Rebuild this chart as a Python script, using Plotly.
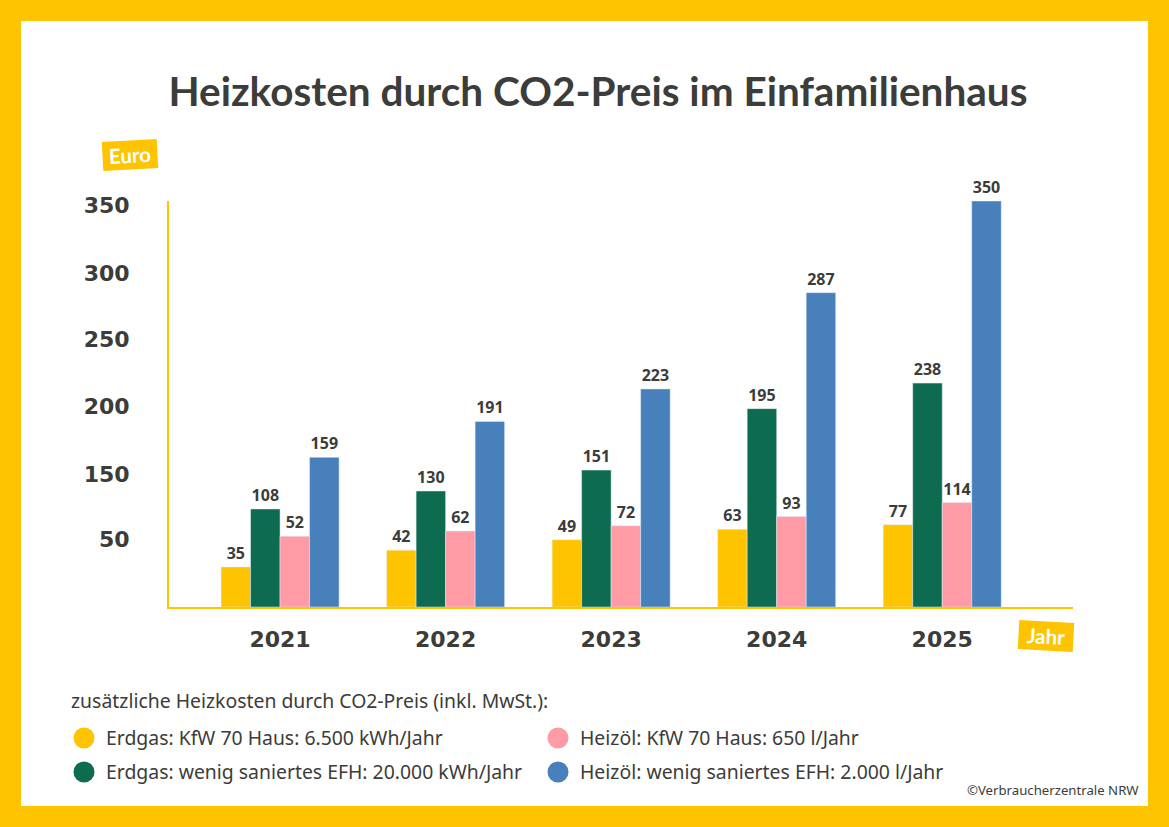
import plotly.graph_objects as go

# Werte an den Balken (Beschriftung im Original)
jahre = ['2021', '2022', '2023', '2024', '2025']
label_erdgas_kfw = [35, 42, 49, 63, 77]
label_erdgas_efh = [108, 130, 151, 195, 238]
label_heizoel_kfw = [52, 62, 72, 93, 114]
label_heizoel_efh = [159, 191, 223, 287, 350]

# Balkenhoehen, wie sie im Bild an der Achse stehen (nicht massstabsgetreu zu den Labels)
hoehe_erdgas_kfw = [34.5, 49, 58, 67, 71]
hoehe_erdgas_efh = [84.5, 100, 118, 171, 193]
hoehe_heizoel_kfw = [61, 65.5, 70, 78, 90]
hoehe_heizoel_efh = [129, 160, 188, 271, 350]

# Achse: 100 fehlt im Original, die Labels stehen gleichmaessig
y_ticks = [58, 114, 173, 231, 288, 346.5]
y_ticktext = ['50', '150', '200', '250', '300', '350']

GELB = '#FFC400'
GRUEN = '#0D6B50'
ROSA = '#FF9BA5'
BLAU = '#4880BC'
TEXT = '#3C3C3B'

BREITE, HOEHE = 1169, 827
L, R, T, B = 167, 1073, 201, 607


def px(x):
    return (x - L) / (R - L)


def py(y):
    return (B - y) / (B - T)


def balken(name, hoehe, labels, farbe):
    return go.Bar(
        x=jahre, y=hoehe, name=name, marker_color=farbe,
        text=[str(v) for v in labels], textposition='outside',
        textangle=0, cliponaxis=False, showlegend=False,
        textfont=dict(family='Noto Sans', size=16, color=TEXT, weight='bold')
    )


fig = go.Figure()
fig.add_trace(balken('Erdgas: KfW 70 Haus', hoehe_erdgas_kfw, label_erdgas_kfw, GELB))
fig.add_trace(balken('Erdgas: wenig saniertes EFH', hoehe_erdgas_efh, label_erdgas_efh, GRUEN))
fig.add_trace(balken('Heizöl: KfW 70 Haus', hoehe_heizoel_kfw, label_heizoel_kfw, ROSA))
fig.add_trace(balken('Heizöl: wenig saniertes EFH', hoehe_heizoel_efh, label_heizoel_efh, BLAU))

fig.update_layout(
    width=BREITE, height=HOEHE, autosize=False,
    margin=dict(l=L, r=BREITE - R, t=T, b=HOEHE - B, pad=0),
    paper_bgcolor=GELB, plot_bgcolor='white',
    barmode='group', bargap=0.287, bargroupgap=0,
    title=dict(
        text='<b>Heizkosten durch CO2-Preis im Einfamilienhaus</b>',
        font=dict(family='Lato', size=40.5, color=TEXT),
        x=px(598), xref='paper', xanchor='center',
        y=1 - 92 / HOEHE, yref='container', yanchor='middle'
    )
)
fig.update_xaxes(
    type='category', range=[-0.683, 4.79], showgrid=False,
    showline=True, linecolor=GELB, linewidth=2, ticks='outside', ticklen=12,
    tickcolor='rgba(0,0,0,0)',
    tickfont=dict(family='DejaVu Sans', size=22, color=TEXT, weight='bold')
)
fig.update_yaxes(
    range=[0, 350], showgrid=False, zeroline=False, showline=False,
    tickmode='array', tickvals=y_ticks, ticktext=y_ticktext,
    ticks='outside', ticklen=32, tickcolor='rgba(0,0,0,0)',
    tickfont=dict(family='DejaVu Sans', size=22, color=TEXT, weight='bold')
)

# weisse Flaeche im gelben Rahmen
fig.add_shape(type='rect', xref='paper', yref='paper', layer='below',
              x0=px(21), x1=px(1148), y0=py(806), y1=py(21),
              fillcolor='white', line_width=0)
# y-Achsenlinie sitzt im Original genau am Balkenbereich, plotly zeichnet sie 2 px weiter links
fig.add_shape(type='line', xref='paper', yref='paper',
              x0=px(168), x1=px(168), y0=py(607), y1=py(201),
              line=dict(color=GELB, width=2))

# Legende von Hand, zweispaltig mit runden Punkten
legende = [
    ('Erdgas: KfW 70 Haus: 6.500 kWh/Jahr', GELB, 84, 738),
    ('Erdgas: wenig saniertes EFH: 20.000 kWh/Jahr', GRUEN, 84, 772),
    ('Heizöl: KfW 70 Haus: 650 l/Jahr', ROSA, 558, 738),
    ('Heizöl: wenig saniertes EFH: 2.000 l/Jahr', BLAU, 558, 772),
]
for text, farbe, x, y in legende:
    fig.add_shape(type='circle', xref='paper', yref='paper',
                  x0=px(x - 10.5), x1=px(x + 10.5), y0=py(y + 10.5), y1=py(y - 10.5),
                  fillcolor=farbe, line_width=0)
    fig.add_annotation(text=text, xref='paper', yref='paper', x=px(x + 20), y=py(y - 1),
                       xanchor='left', yanchor='middle', showarrow=False,
                       font=dict(family='Noto Sans', size=19.4, color=TEXT))

fig.add_annotation(text='zusätzliche Heizkosten durch CO2-Preis (inkl. MwSt.):',
                   xref='paper', yref='paper', x=px(69), y=py(700),
                   xanchor='left', yanchor='middle', showarrow=False,
                   font=dict(family='Noto Sans', size=19.4, color=TEXT))
fig.add_annotation(text='©Verbraucherzentrale NRW', xref='paper', yref='paper',
                   x=px(1141), y=py(790), xanchor='right', yanchor='middle', showarrow=False,
                   font=dict(family='Noto Sans', size=13.2, color=TEXT))

# schraege Schildchen fuer die Achsentitel
fig.add_annotation(text='<b>Euro</b>', xref='paper', yref='paper', x=px(129.5), y=py(155),
                   xanchor='center', yanchor='middle', width=48, height=22,
                   textangle=-3, showarrow=False, bgcolor=GELB, borderpad=3,
                   font=dict(family='Lato', size=20.5, color='white'))
fig.add_annotation(text='<b>Jahr</b>', xref='paper', yref='paper', x=px(1046), y=py(636),
                   xanchor='center', yanchor='middle', width=48, height=22,
                   textangle=3, showarrow=False, bgcolor=GELB, borderpad=3,
                   font=dict(family='Lato', size=20.5, color='white'))

# Browser-Rand der Seite weg, sonst sitzt der gelbe Rahmen 8 px versetzt
fig.write_html("out.html", config={'displayModeBar': False},
               post_script="document.body.style.margin = '0';")
